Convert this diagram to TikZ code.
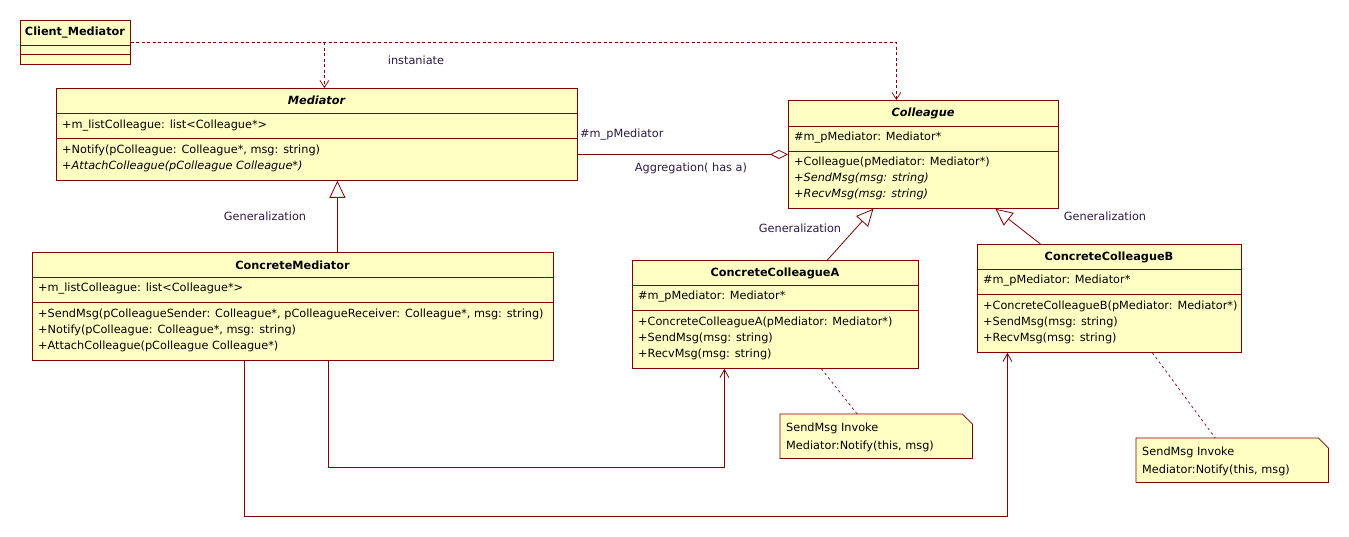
\documentclass[tikz,border=0pt]{standalone}
\usepackage{fontspec}
\setmainfont{DejaVu Sans}
\usetikzlibrary{arrows.meta,calc,positioning}
\definecolor{umlred}{RGB}{128,0,0}
\definecolor{umlfill}{RGB}{255,255,196}
\definecolor{labelink}{RGB}{45,25,70}

\tikzset{
  umlbox/.style={draw=umlred, fill=umlfill, line width=0.8pt, anchor=north west, inner sep=0pt},
  cname/.style={font=\fontsize{11.3}{13}\selectfont\bfseries, inner sep=0pt},
  member/.style={font=\fontsize{11.3}{13}\selectfont, anchor=west, inner sep=0pt},
  lbl/.style={font=\fontsize{11.3}{13}\selectfont, text=labelink, inner sep=0pt},
  sep/.style={draw=umlred, line width=0.8pt},
  depend/.style={draw=umlred, line width=0.7pt, dash pattern=on 3pt off 2.5pt, -{Straight Barb[length=7pt,width=9pt]}},
  assoc/.style={draw=umlred, line width=0.8pt},
  gen/.style={draw=umlred, line width=0.8pt, -{Triangle[open,length=17pt,width=16pt,fill=white]}},
  call/.style={draw=umlred, line width=0.8pt, -{Straight Barb[length=8pt,width=9pt]}},
  notebox/.style={draw=umlred, fill=umlfill, line width=0.8pt},
  notelink/.style={draw=umlred, line width=0.7pt, dash pattern=on 2.5pt off 3pt}
}

\begin{document}
\begin{tikzpicture}[x=1pt, y=-1pt]
    \useasboundingbox (0,0) rectangle (1349,537);

    % Client
    \node[umlbox, minimum width=110pt, minimum height=44pt] (client) at (20,20) {};
    \draw[sep] (20,45) -- (130,45);
    \draw[sep] (20,54) -- (130,54);
    \node[cname] (clientname) at (75,32.5) {Client\_Mediator};

    % Mediator (abstract)
    \node[umlbox, minimum width=521pt, minimum height=92pt] (mediator) at (56,88) {};
    \draw[sep] (56,113) -- (577,113);
    \draw[sep] (56,138) -- (577,138);
    \node[cname] (mediatorname) at (316.5,100.5) {\itshape Mediator};
    \node[member] (mediatorattr) at (62,126) {+m\_listColleague: list<Colleague*>};
    \node[member] (mediatorop1) at (62,150) {+Notify(pColleague: Colleague*, msg: string)};
    \node[member] (mediatorop2) at (62,166) {\itshape +AttachColleague(pColleague Colleague*)};

    % Colleague (abstract)
    \node[umlbox, minimum width=270pt, minimum height=108pt] (colleague) at (788,100) {};
    \draw[sep] (788,126) -- (1058,126);
    \draw[sep] (788,151) -- (1058,151);
    \node[cname] (colleaguename) at (923,113) {\itshape Colleague};
    \node[member] (colleagueattr) at (794,138) {\#m\_pMediator: Mediator*};
    \node[member] (colleagueop1) at (794,162) {+Colleague(pMediator: Mediator*)};
    \node[member] (colleagueop2) at (794,178) {\itshape +SendMsg(msg: string)};
    \node[member] (colleagueop3) at (794,194) {\itshape +RecvMsg(msg: string)};

    % ConcreteMediator
    \node[umlbox, minimum width=521pt, minimum height=108pt] (cmediator) at (32,252) {};
    \draw[sep] (32,277) -- (553,277);
    \draw[sep] (32,302) -- (553,302);
    \node[cname] (cmediatorname) at (292.5,265) {ConcreteMediator};
    \node[member] (cmediatorattr) at (38,289) {+m\_listColleague: list<Colleague*>};
    \node[member] (cmediatorop1) at (38,314) {+SendMsg(pColleagueSender: Colleague*, pColleagueReceiver: Colleague*, msg: string)};
    \node[member] (cmediatorop2) at (38,330) {+Notify(pColleague: Colleague*, msg: string)};
    \node[member] (cmediatorop3) at (38,346) {+AttachColleague(pColleague Colleague*)};

    % ConcreteColleagueA
    \node[umlbox, minimum width=286pt, minimum height=108pt] (ccolA) at (632,260) {};
    \draw[sep] (632,285) -- (918,285);
    \draw[sep] (632,310) -- (918,310);
    \node[cname] (ccolAname) at (775,273) {ConcreteColleagueA};
    \node[member] (ccolAattr) at (638,297) {\#m\_pMediator: Mediator*};
    \node[member] (ccolAop1) at (638,322) {+ConcreteColleagueA(pMediator: Mediator*)};
    \node[member] (ccolAop2) at (638,338) {+SendMsg(msg: string)};
    \node[member] (ccolAop3) at (638,354) {+RecvMsg(msg: string)};

    % ConcreteColleagueB
    \node[umlbox, minimum width=264pt, minimum height=108pt] (ccolB) at (977,244) {};
    \draw[sep] (977,269) -- (1241,269);
    \draw[sep] (977,294) -- (1241,294);
    \node[cname] (ccolBname) at (1109,257) {ConcreteColleagueB};
    \node[member] (ccolBattr) at (983,281) {\#m\_pMediator: Mediator*};
    \node[member] (ccolBop1) at (983,306) {+ConcreteColleagueB(pMediator: Mediator*)};
    \node[member] (ccolBop2) at (983,322) {+SendMsg(msg: string)};
    \node[member] (ccolBop3) at (983,338) {+RecvMsg(msg: string)};

    % notes
    \node[minimum width=192pt, minimum height=44pt, anchor=north west, inner sep=0pt] (noteA) at (780,414) {};
    \draw[notebox] (noteA.south west) -- (noteA.north west) -- ([xshift=-10pt]noteA.north east)
        -- ([yshift=-10pt]noteA.north east) -- (noteA.south east) -- cycle;
    \node[member] (noteAline1) at (786,428) {SendMsg Invoke};
    \node[member] (noteAline2) at (786,446) {Mediator:Notify(this, msg)};

    \node[minimum width=192pt, minimum height=44pt, anchor=north west, inner sep=0pt] (noteB) at (1136,438) {};
    \draw[notebox] (noteB.south west) -- (noteB.north west) -- ([xshift=-10pt]noteB.north east)
        -- ([yshift=-10pt]noteB.north east) -- (noteB.south east) -- cycle;
    \node[member] (noteBline1) at (1142,452) {SendMsg Invoke};
    \node[member] (noteBline2) at (1142,470) {Mediator:Notify(this, msg)};

    % instanciate dependencies
    \draw[depend] (client.east) -| ([xshift=-27pt]colleague.north);
    \draw[depend] ([xshift=7.5pt]mediator.north |- client.east) -- ([xshift=7.5pt]mediator.north);
    \node[lbl] (instlabel) at (416,60) {instaniate};

    % aggregation
    \draw[assoc, {Diamond[open,length=18pt,width=9pt]}-] (colleague.west) -- (colleague.west -| mediator.east);
    \node[lbl, anchor=west] (aggrole) at (580,135) {\#m\_pMediator};
    \node[lbl] (agglabel) at (691,168) {Aggregation( has a)};

    % generalizations
    \draw[gen] ([xshift=44.5pt]cmediator.north) -- ([xshift=44.5pt]cmediator.north |- mediator.south);
    \draw[gen] ([xshift=52pt]ccolA.north) -- ([xshift=-50pt]colleague.south);
    \draw[gen] ([xshift=-69pt]ccolB.north) -- ([xshift=72pt]colleague.south);
    \node[lbl] (genM) at (265,216) {Generalization};
    \node[lbl] (genA) at (800,228) {Generalization};
    \node[lbl] (genB) at (1105,216) {Generalization};

    % mediator calls colleagues
    \draw[call] ([xshift=35.5pt]cmediator.south) -- ++(0,107) -| ([xshift=-51pt]ccolA.south);
    \draw[call] ([xshift=-48.5pt]cmediator.south) -- ++(0,156) -| ([xshift=-102pt]ccolB.south);

    % note links
    \draw[notelink] ([xshift=46pt]ccolA.south) -- ([xshift=-19pt]noteA.north);
    \draw[notelink] ([xshift=43pt]ccolB.south) -- ([xshift=-17pt]noteB.north);
\end{tikzpicture}
\end{document}
